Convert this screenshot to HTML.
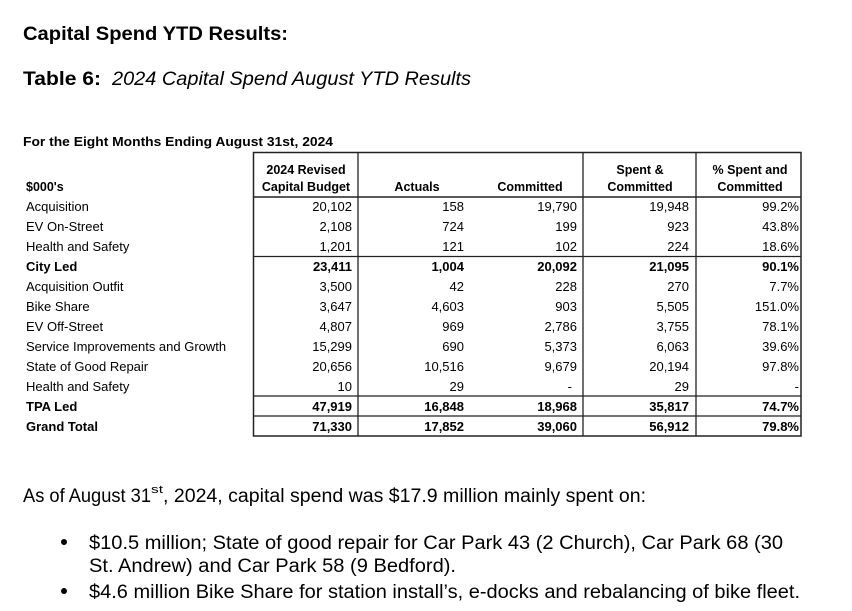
<!DOCTYPE html>
<html><head><meta charset="utf-8"><style>
html,body{margin:0;padding:0;background:#fff;}
svg{display:block;font-family:"Liberation Sans",Arial,sans-serif;}
</style></head><body>
<svg width="852" height="611" viewBox="0 0 852 611" xmlns="http://www.w3.org/2000/svg">
<text x="23" y="40" font-size="19" font-weight="bold" textLength="265" lengthAdjust="spacingAndGlyphs">Capital Spend YTD Results:</text>
<text x="23" y="85" font-size="19" font-weight="bold" textLength="78" lengthAdjust="spacingAndGlyphs">Table 6:</text>
<text x="112" y="85" font-size="19" font-style="italic" textLength="359" lengthAdjust="spacingAndGlyphs">2024 Capital Spend August YTD Results</text>
<text x="23" y="146" font-size="12.5" font-weight="bold" textLength="310" lengthAdjust="spacingAndGlyphs">For the Eight Months Ending August 31st, 2024</text>

<g stroke="#222" fill="none">
<rect x="253.5" y="152.5" width="547.5" height="283.5" stroke-width="1.5"/>
<line x1="358" y1="152" x2="358" y2="436" stroke-width="1.3"/>
<line x1="583" y1="152" x2="583" y2="436" stroke-width="1.3"/>
<line x1="696" y1="152" x2="696" y2="436" stroke-width="1.3"/>
<line x1="253" y1="197" x2="801" y2="197" stroke-width="1.5"/>
<line x1="253" y1="256.5" x2="801" y2="256.5" stroke-width="1.3"/>
<line x1="253" y1="396" x2="801" y2="396" stroke-width="1.3"/>
<line x1="253" y1="416" x2="801" y2="416" stroke-width="1.3"/>
</g>

<g font-size="12.5" font-weight="bold" text-anchor="middle">
<text x="306" y="174">2024 Revised</text>
<text x="306" y="191">Capital Budget</text>
<text x="417" y="191">Actuals</text>
<text x="530" y="191">Committed</text>
<text x="640" y="174">Spent &amp;</text>
<text x="640" y="191">Committed</text>
<text x="750" y="174">% Spent and</text>
<text x="750" y="191">Committed</text>
</g>
<text x="26" y="191" font-size="12.5" font-weight="bold">$000's</text>

<g font-size="13">
<g>
<text x="26" y="211">Acquisition</text>
<text x="26" y="231">EV On-Street</text>
<text x="26" y="251">Health and Safety</text>
<text x="26" y="271" font-weight="bold">City Led</text>
<text x="26" y="291">Acquisition Outfit</text>
<text x="26" y="311">Bike Share</text>
<text x="26" y="331">EV Off-Street</text>
<text x="26" y="351">Service Improvements and Growth</text>
<text x="26" y="371">State of Good Repair</text>
<text x="26" y="391">Health and Safety</text>
<text x="26" y="411" font-weight="bold">TPA Led</text>
<text x="26" y="431" font-weight="bold">Grand Total</text>
</g>
<g text-anchor="end">
<text x="352" y="211">20,102</text><text x="464" y="211">158</text><text x="577" y="211">19,790</text><text x="689" y="211">19,948</text><text x="799" y="211">99.2%</text>
<text x="352" y="231">2,108</text><text x="464" y="231">724</text><text x="577" y="231">199</text><text x="689" y="231">923</text><text x="799" y="231">43.8%</text>
<text x="352" y="251">1,201</text><text x="464" y="251">121</text><text x="577" y="251">102</text><text x="689" y="251">224</text><text x="799" y="251">18.6%</text>
<g font-weight="bold"><text x="352" y="271">23,411</text><text x="464" y="271">1,004</text><text x="577" y="271">20,092</text><text x="689" y="271">21,095</text><text x="799" y="271">90.1%</text></g>
<text x="352" y="291">3,500</text><text x="464" y="291">42</text><text x="577" y="291">228</text><text x="689" y="291">270</text><text x="799" y="291">7.7%</text>
<text x="352" y="311">3,647</text><text x="464" y="311">4,603</text><text x="577" y="311">903</text><text x="689" y="311">5,505</text><text x="799" y="311">151.0%</text>
<text x="352" y="331">4,807</text><text x="464" y="331">969</text><text x="577" y="331">2,786</text><text x="689" y="331">3,755</text><text x="799" y="331">78.1%</text>
<text x="352" y="351">15,299</text><text x="464" y="351">690</text><text x="577" y="351">5,373</text><text x="689" y="351">6,063</text><text x="799" y="351">39.6%</text>
<text x="352" y="371">20,656</text><text x="464" y="371">10,516</text><text x="577" y="371">9,679</text><text x="689" y="371">20,194</text><text x="799" y="371">97.8%</text>
<text x="352" y="391">10</text><text x="464" y="391">29</text><text x="572" y="391">-</text><text x="689" y="391">29</text><text x="799" y="391">-</text>
<g font-weight="bold"><text x="352" y="411">47,919</text><text x="464" y="411">16,848</text><text x="577" y="411">18,968</text><text x="689" y="411">35,817</text><text x="799" y="411">74.7%</text></g>
<g font-weight="bold"><text x="352" y="431">71,330</text><text x="464" y="431">17,852</text><text x="577" y="431">39,060</text><text x="689" y="431">56,912</text><text x="799" y="431">79.8%</text></g>
</g>
</g>

<g font-size="19">
<text x="23" y="502" textLength="128" lengthAdjust="spacingAndGlyphs">As of August 31</text>
<text x="151" y="493" font-size="11" textLength="12" lengthAdjust="spacingAndGlyphs">st</text>
<text x="163" y="502" textLength="483" lengthAdjust="spacingAndGlyphs">, 2024, capital spend was $17.9 million mainly spent on:</text>
<circle cx="64" cy="542" r="3" fill="#000"/>
<text x="89" y="549" textLength="694" lengthAdjust="spacingAndGlyphs">$10.5 million; State of good repair for Car Park 43 (2 Church), Car Park 68 (30</text>
<text x="89" y="572" textLength="367" lengthAdjust="spacingAndGlyphs">St. Andrew) and Car Park 58 (9 Bedford).</text>
<circle cx="64" cy="591" r="3" fill="#000"/>
<text x="89" y="598" textLength="711" lengthAdjust="spacingAndGlyphs">$4.6 million Bike Share for station install’s, e-docks and rebalancing of bike fleet.</text>
</g>
</svg>
</body></html>
